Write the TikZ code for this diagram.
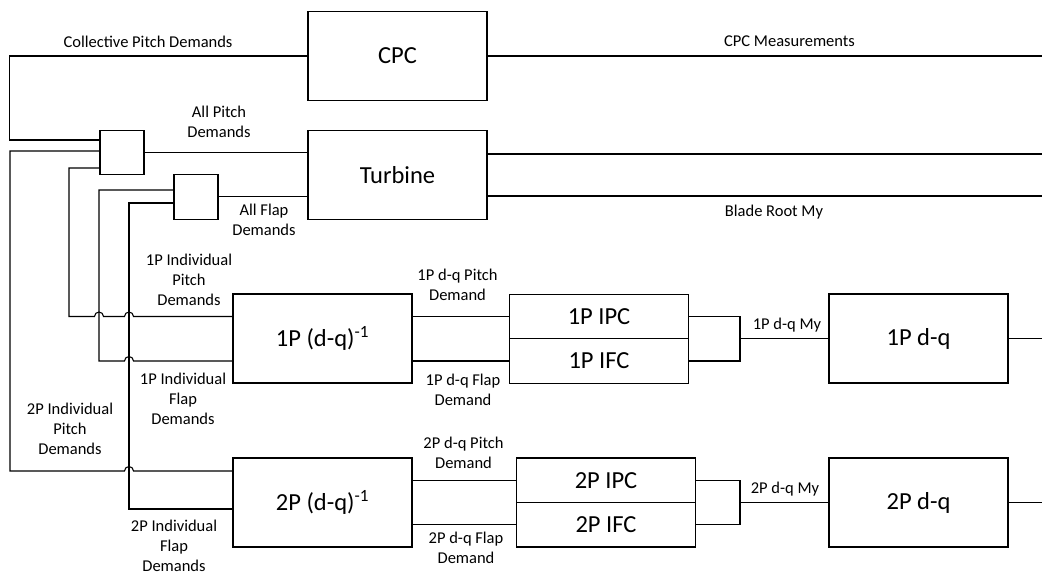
\documentclass[tikz,border=0pt]{standalone}
\usepackage{fontspec}
\setmainfont{Carlito}
\usetikzlibrary{positioning,calc}

\tikzset{
  blk/.style={draw, line width=1.3pt, minimum width=179pt, minimum height=89pt, inner sep=0pt, font=\fontsize{24.5}{29}\selectfont},
  half/.style={blk, minimum height=44.5pt},
  mux/.style={draw, line width=1.3pt, minimum width=44pt, minimum height=44pt, inner sep=0pt},
  lbl/.style={align=center, inner sep=0pt, font=\fontsize{16.5}{20}\selectfont},
  wire/.style={line width=1.1pt},
  hop/.style={start angle=180, end angle=0, radius=4.5pt},
}

\begin{document}
\begin{tikzpicture}[x=1pt, y=-1pt]
  \fill[white] (0,0) rectangle (1042,575);
  \useasboundingbox (0,0) rectangle (1042,575);

  % blocks
  \node[blk] (cpc) at (397.5,56) {CPC};
  \node[blk] (turbine) at (397.5,175) {Turbine};
  \node[mux] (mux1) at (122,152.5) {};
  \node[mux, minimum height=45pt] (mux2) at (196,196.8) {};
  \node[blk] (inv1) at (322.5,338.5) {1P (d-q)\textsuperscript{-1}};
  \node[half] (ipc1) at (599,316.5) {1P IPC};
  \node[half] (ifc1) at (599,361) {1P IFC};
  \node[blk] (dq1) at (918.5,338.5) {1P d-q};
  \node[blk] (inv2) at (322.5,502.5) {2P (d-q)\textsuperscript{-1}};
  \node[half] (ipc2) at (606,480.3) {2P IPC};
  \node[half] (ifc2) at (606,524.8) {2P IFC};
  \node[blk] (dq2) at (918.5,502.5) {2P d-q};

  % ports and free ends
  \coordinate (m1a) at (100,140);
  \coordinate (m1b) at (100,151);
  \coordinate (m1c) at (100,168);
  \coordinate (m2a) at (174,190);
  \coordinate (m2b) at (174,203);
  \coordinate (p2in) at (233,471);
  \coordinate (f2in) at (233,509);
  \coordinate (j1) at (740,338.5);
  \coordinate (j2) at (740,502.5);
  \coordinate (cpcout) at (1042,56);
  \coordinate (tout1) at (1042,154);
  \coordinate (tout2) at (1042,196);
  \coordinate (dq1out) at (1042,338.5);
  \coordinate (dq2out) at (1042,502.5);

  % top part
  \draw[wire] (cpc.west) -- ++(-298,0) |- (m1a);
  \draw[wire] (cpc.east) -- (cpcout);
  \draw[wire] (mux1.east) -- (mux1.east -| turbine.west);
  \draw[wire] (mux2.east) -- (mux2.east -| turbine.west);
  \draw[wire] (tout1 -| turbine.east) -- (tout1);
  \draw[wire] (tout2 -| turbine.east) -- (tout2);

  % individual demands (hops over the verticals)
  \draw[wire] (m1b) -- ++(-90,0) -- ++(0,320) -- ++(114.5,0) arc[hop] -- (p2in);
  \draw[wire] (m1c) -- ++(-31,0) -- ++(0,148.5) -- ++(25.5,0) arc[hop] -- ++(21,0) arc[hop] -- (inv1.west |- ipc1.west);
  \draw[wire] (m2a) -- ++(-75,0) -- ++(0,171) -- ++(25.5,0) arc[hop] -- (inv1.west |- ifc1.west);
  \draw[wire] (m2b) -- ++(-45,0) |- (f2in);

  % 1P chain
  \draw[wire] (inv1.east |- ipc1.west) -- (ipc1.west);
  \draw[wire] (inv1.east |- ifc1.west) -- (ifc1.west);
  \draw[wire] (ipc1.east) -| (j1) |- (ifc1.east);
  \draw[wire] (j1) -- (dq1.west);
  \draw[wire] (dq1.east) -- (dq1out);

  % 2P chain
  \draw[wire] (inv2.east |- ipc2.west) -- (ipc2.west);
  \draw[wire] (inv2.east |- ifc2.west) -- (ifc2.west);
  \draw[wire] (ipc2.east) -| (j2) |- (ifc2.east);
  \draw[wire] (j2) -- (dq2.west);
  \draw[wire] (dq2.east) -- (dq2out);

  % labels
  \node[lbl] (lcoll) at (148,42) {Collective Pitch Demands};
  \node[lbl] (lmeas) at (789.5,41) {CPC Measurements};
  \node[lbl] (lroot) at (774,212) {Blade Root My};
  \node[lbl] (lallp) at (219,121.7) {All Pitch\\Demands};
  \node[lbl] (lallf) at (264,220.3) {All Flap\\Demands};
  \node[lbl] (lp1) at (189,280) {1P Individual\\Pitch\\Demands};
  \node[lbl] (lf1) at (183,399) {1P Individual\\Flap\\Demands};
  \node[lbl] (lp2) at (70,429) {2P Individual\\Pitch\\Demands};
  \node[lbl] (lf2) at (174,545.5) {2P Individual\\Flap\\Demands};
  \node[lbl] (ldp1) at (457.5,285.3) {1P d-q Pitch\\Demand};
  \node[lbl] (ldf1) at (463,389.5) {1P d-q Flap\\Demand};
  \node[lbl] (lmy1) at (787,325) {1P d-q My};
  \node[lbl] (ldp2) at (463.5,453) {2P d-q Pitch\\Demand};
  \node[lbl] (ldf2) at (466,548) {2P d-q Flap\\Demand};
  \node[lbl] (lmy2) at (785,489) {2P d-q My};
\end{tikzpicture}
\end{document}
